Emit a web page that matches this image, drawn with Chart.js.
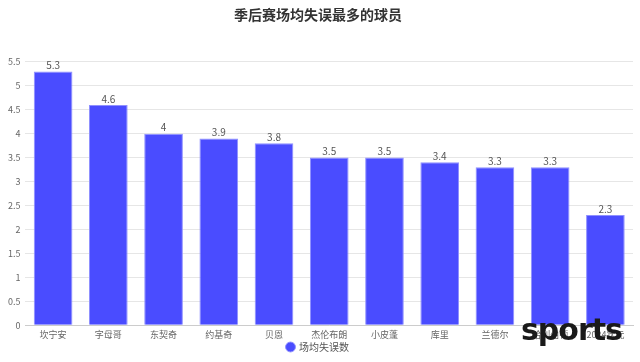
<!DOCTYPE html>
<html><head><meta charset="utf-8">
<script src="https://cdn.jsdelivr.net/npm/chart.js@4"></script>
<style>
html,body{margin:0;padding:0;background:#fff;}
#wrap{position:relative;width:640px;height:362px;}
#wm{position:absolute;left:521px;top:312px;font:bold 30px "DejaVu Sans","Noto Sans",sans-serif;color:#1a1a1a;letter-spacing:-1px;pointer-events:none;}
</style></head>
<body><div id="wrap"><canvas id="c" width="640" height="362"></canvas><div id="wm">sports</div></div>
<script>
const categories = ["坎宁安","字母哥","东契奇","约基奇","贝恩","杰伦布朗","小皮蓬","库里","兰德尔","哈利伯顿","2024状元"];
const turnovers = [5.3,4.6,4,3.9,3.8,3.5,3.5,3.4,3.3,3.3,2.3];
const yTicks = [0,0.5,1,1.5,2,2.5,3,3.5,4,4.5,5,5.5];
const seriesName = "场均失误数";
const FONT = '"Noto Sans CJK SC","Noto Sans",sans-serif';

const valueLabels = {
  id:'valueLabels',
  afterDatasetsDraw(chart){
    const ctx = chart.ctx;
    const meta = chart.getDatasetMeta(0);
    ctx.save();
    ctx.font = '10px ' + FONT;
    ctx.fillStyle = '#555';
    ctx.textAlign = 'center';
    ctx.textBaseline = 'bottom';
    meta.data.forEach((bar,i)=>{
      ctx.fillText(String(turnovers[i]), bar.x, bar.y - 1);
    });
    ctx.restore();
  }
};

new Chart(document.getElementById('c'),{
  type:'bar',
  data:{labels:categories,datasets:[{label:seriesName,data:turnovers,
    backgroundColor:'#4a4cff',borderColor:'#8f90ff',borderWidth:1,
    barPercentage:0.7,categoryPercentage:1}]},
  options:{
    responsive:false,animation:false,
    layout:{padding:{left:3,right:7,top:0,bottom:0}},
    plugins:{
      title:{display:true,text:'季后赛场均失误最多的球员',color:'#333',
        font:{family:FONT,size:14,weight:'bold'},padding:{top:6,bottom:39}},
      legend:{position:'bottom',labels:{usePointStyle:true,pointStyle:'circle',boxWidth:7,boxHeight:7,
        color:'#555',font:{family:FONT,size:10},padding:2}},
      tooltip:{enabled:false}
    },
    scales:{
      x:{grid:{display:false,drawTicks:true,tickLength:4},border:{color:'#ccc'},
        ticks:{color:'#666',font:{family:FONT,size:9},maxRotation:0,autoSkip:false,padding:0}},
      y:{min:0,max:5.5,afterBuildTicks(ax){ax.ticks=yTicks.map(v=>({value:v}));},
        grid:{color:'#e6e6e6',drawTicks:false},border:{display:false},
        ticks:{color:'#666',font:{family:FONT,size:9},padding:5,callback:v=>String(v)}}
    }
  },
  plugins:[valueLabels]
});
</script></body></html>
